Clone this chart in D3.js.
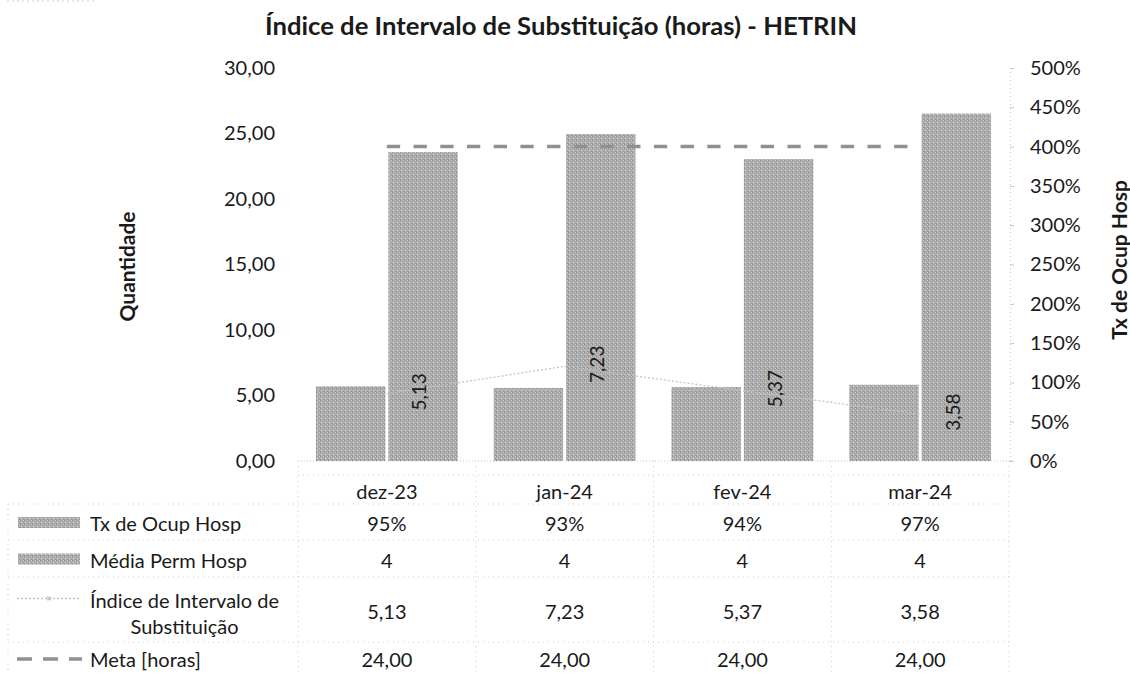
<!DOCTYPE html>
<html>
<head>
<meta charset="utf-8">
<script src="https://cdn.jsdelivr.net/npm/d3@7"></script>
<style>
  html, body { margin: 0; padding: 0; background: #fff; }
  svg { display: block; }
  text { font-family: Lato, "Open Sans", sans-serif; fill: #1a1a1a; }
</style>
</head>
<body>
<svg id="chart" width="1130" height="674"></svg>
<script>
// ---------------- data ----------------
const categories = ["dez-23", "jan-24", "fev-24", "mar-24"];
const txOcupHosp = [0.95, 0.93, 0.94, 0.97];       // right axis (%)
const mediaPermHosp = [3.93, 4.16, 3.84, 4.42];     // right axis (shown as 393% etc), table shows rounded
const indiceIntervalo = [5.13, 7.23, 5.37, 3.58];   // left axis
const metaHoras = [24, 24, 24, 24];                 // left axis
const leftTicks = [0, 5, 10, 15, 20, 25, 30];
const rightTicks = [0, 0.5, 1, 1.5, 2, 2.5, 3, 3.5, 4, 4.5, 5];
const seriesNames = ["Tx de Ocup Hosp", "Média Perm Hosp", "Índice de Intervalo de|Substituição", "Meta [horas]"];
const titleText = "Índice de Intervalo de Substituição (horas) - HETRIN";
const leftTitle = "Quantidade";
const rightTitle = "Tx de Ocup Hosp";

// ---------------- setup ----------------
const svg = d3.select("#chart");
const loc = d3.formatLocale({decimal: ",", thousands: ".", grouping: [3], currency: ["R$", ""]});
const f2 = loc.format(".2f");
const fPct = loc.format(".0%");
const f0 = loc.format(".0f");

// font calibration (approximate Calibri metrics with Lato)
function measure(str, size, weight) {
  const t = svg.append("text").attr("font-size", size).attr("font-weight", weight).text(str);
  const w = t.node().getComputedTextLength();
  t.remove();
  return w;
}
const fs = 100 * 51 / measure("30,00", 100, "normal");
const fsB = 100 * 592 / measure(titleText, 100, "bold");
const fsAx = 100 * 110 / measure(leftTitle, 100, "bold");

// pattern for halftone-like bar fill
const defs = svg.append("defs");
const pat = defs.append("pattern").attr("id", "tex").attr("patternUnits", "userSpaceOnUse")
  .attr("width", 4).attr("height", 4);
pat.append("rect").attr("width", 4).attr("height", 4).attr("fill", "#b0b0b0");
[[0,0,"#8c8c8c"],[2,1,"#989898"],[1,2,"#d0d0d0"],[3,3,"#949494"],[3,0,"#c8c8c8"],[0,3,"#9e9e9e"]].forEach(([x,y,c]) =>
  pat.append("rect").attr("x", x).attr("y", y).attr("width", 1).attr("height", 1).attr("fill", c));

const plotL = 298, plotR = 1009, plotT = 68, plotB = 461;
const x = d3.scaleBand().domain(categories).range([plotL, plotR]).paddingInner(0).paddingOuter(0);
const xSub = d3.scaleBand().domain(["tx", "media"]).range([0, x.bandwidth()]).paddingInner(0.0414).paddingOuter(0.248);
const yL = d3.scaleLinear().domain([0, 30]).range([plotB, plotT]);
const yR = d3.scaleLinear().domain([0, 5]).range([plotB, plotT]);
const gridCol = "#c6c6c6";

// top-left stray border
svg.append("line").attr("x1", 7).attr("x2", 95).attr("y1", 1).attr("y2", 1)
  .attr("stroke", "#d2d2d2").attr("stroke-dasharray", "2,3");

// title
svg.append("text").attr("x", 561).attr("y", 35).attr("text-anchor", "middle")
  .attr("font-size", fsB).attr("font-weight", "bold").text(titleText);

// left axis (labels only)
const gL = svg.append("g").attr("transform", `translate(${plotL - 23},0)`)
  .call(d3.axisLeft(yL).tickValues(leftTicks).tickFormat(f2).tickSize(0).tickPadding(0));
gL.select(".domain").remove();
gL.selectAll("text").attr("font-size", fs).attr("font-family", "Lato").attr("fill", "#1a1a1a");

// right axis
const gR = svg.append("g").attr("transform", `translate(${plotR + 1},0)`)
  .call(d3.axisRight(yR).tickValues(rightTicks).tickFormat(fPct).tickSize(4).tickPadding(16));
gR.select(".domain").attr("stroke", gridCol).attr("stroke-dasharray", "1,3");
gR.selectAll(".tick line").attr("stroke", gridCol);
gR.selectAll("text").attr("font-size", fs).attr("font-family", "Lato").attr("fill", "#1a1a1a");

// axis titles
svg.append("text").attr("transform", `translate(126,${(plotT + plotB) / 2 + 2}) rotate(-90)`)
  .attr("text-anchor", "middle").attr("dominant-baseline", "central")
  .attr("font-size", fsAx).attr("font-weight", "bold").text(leftTitle);
svg.append("text").attr("transform", `translate(1118,${260}) rotate(-90)`)
  .attr("text-anchor", "middle").attr("dominant-baseline", "central")
  .attr("font-size", fsAx).attr("font-weight", "bold").text(rightTitle);

// baseline
svg.append("line").attr("x1", plotL).attr("x2", plotR + 1).attr("y1", plotB).attr("y2", plotB)
  .attr("stroke", gridCol).attr("stroke-dasharray", "1,2");

// bars
const rows = categories.map((c, i) => ({c, tx: txOcupHosp[i], media: mediaPermHosp[i], idx: indiceIntervalo[i], meta: metaHoras[i]}));
const gBars = svg.append("g");
gBars.selectAll("rect.tx").data(rows).join("rect").attr("class", "tx")
  .attr("x", d => x(d.c) + xSub("tx")).attr("width", xSub.bandwidth())
  .attr("y", d => yR(d.tx)).attr("height", d => plotB - yR(d.tx))
  .attr("fill", "url(#tex)");
gBars.selectAll("rect.media").data(rows).join("rect").attr("class", "media")
  .attr("x", d => x(d.c) + xSub("media")).attr("width", xSub.bandwidth())
  .attr("y", d => yR(d.media)).attr("height", d => plotB - yR(d.media))
  .attr("fill", "url(#tex)");

// meta dashed line
const cx = c => x(c) + x.bandwidth() / 2;
svg.append("path").datum(rows)
  .attr("d", d3.line().x(d => cx(d.c)).y(d => yL(d.meta)))
  .attr("fill", "none").attr("stroke", "#909090").attr("stroke-width", 3.5)
  .attr("stroke-dasharray", "13.3,13.4");

// indice line
svg.append("path").datum(rows)
  .attr("d", d3.line().x(d => cx(d.c)).y(d => yL(d.idx)))
  .attr("fill", "none").attr("stroke", "#c4c4c4").attr("stroke-width", 1.3)
  .attr("stroke-dasharray", "2,2");
// indice labels
svg.selectAll("text.idxlab").data(rows).join("text").attr("class", "idxlab")
  .attr("transform", d => `translate(${cx(d.c) + 32},${yL(d.idx) - 2}) rotate(-90)`)
  .attr("text-anchor", "middle").attr("dominant-baseline", "central")
  .attr("font-size", fs * 0.95).text(d => f2(d.idx));

// ---------------- data table ----------------
const rowBounds = [475, 504, 540, 577, 642, 674];
const gT = svg.append("g");
const dot = sel => sel.attr("stroke", "#cfcfcf").attr("stroke-dasharray", "1,4").attr("stroke-width", 1);
// horizontal lines
gT.append("line").attr("x1", plotL).attr("x2", plotR).attr("y1", rowBounds[0]).attr("y2", rowBounds[0]).call(dot);
rowBounds.slice(1, 5).forEach(yv => gT.append("line").attr("x1", 8).attr("x2", plotR).attr("y1", yv).attr("y2", yv).call(dot));
// vertical lines
categories.forEach(c => gT.append("line").attr("x1", x(c)).attr("x2", x(c)).attr("y1", plotB).attr("y2", 674).call(dot));
gT.append("line").attr("x1", plotR).attr("x2", plotR).attr("y1", plotB).attr("y2", 674).call(dot);
gT.append("line").attr("x1", 8).attr("x2", 8).attr("y1", rowBounds[1]).attr("y2", 674).call(dot);

// header
gT.selectAll("text.hdr").data(categories).join("text").attr("class", "hdr")
  .attr("x", d => cx(d)).attr("y", (rowBounds[0] + rowBounds[1]) / 2 + 1)
  .attr("text-anchor", "middle").attr("dominant-baseline", "central").attr("font-size", fs).text(d => d);

const tableRows = [
  {vals: txOcupHosp.map(fPct)},
  {vals: mediaPermHosp.map(f0)},
  {vals: indiceIntervalo.map(f2)},
  {vals: metaHoras.map(f2)}
];
tableRows.forEach((r, ri) => {
  const yc = (rowBounds[ri + 1] + rowBounds[ri + 2]) / 2 + 1;
  categories.forEach((c, ci) => {
    gT.append("text").attr("x", cx(c)).attr("y", yc).attr("text-anchor", "middle")
      .attr("dominant-baseline", "central").attr("font-size", fs).text(r.vals[ci]);
  });
  // row label
  const parts = seriesNames[ri].split("|");
  if (parts.length === 1) {
    gT.append("text").attr("x", 90).attr("y", yc).attr("dominant-baseline", "central")
      .attr("font-size", fs).text(parts[0]);
  } else {
    const t1 = gT.append("text").attr("x", 90).attr("y", yc - 11).attr("dominant-baseline", "central")
      .attr("font-size", fs).text(parts[0]);
    const w1 = t1.node().getComputedTextLength();
    gT.append("text").attr("x", 90 + w1 / 2).attr("y", yc + 15).attr("text-anchor", "middle")
      .attr("dominant-baseline", "central").attr("font-size", fs).text(parts[1]);
  }
  // legend key
  if (ri < 2) {
    gT.append("rect").attr("x", 18).attr("y", yc - 6).attr("width", 62).attr("height", 11).attr("fill", "url(#tex)");
  } else if (ri === 2) {
    gT.append("line").attr("x1", 17).attr("x2", 80).attr("y1", yc - 12).attr("y2", yc - 12)
      .attr("stroke", "#c4c4c4").attr("stroke-width", 1.3).attr("stroke-dasharray", "2,2");
    gT.append("path").attr("d", d3.symbol(d3.symbolCross, 14)()).attr("transform", `translate(49,${yc - 12}) rotate(45)`)
      .attr("fill", "#c4c4c4");
  } else {
    gT.append("line").attr("x1", 17).attr("x2", 82).attr("y1", yc).attr("y2", yc)
      .attr("stroke", "#909090").attr("stroke-width", 3.5).attr("stroke-dasharray", "15,11");
  }
});
</script>
</body>
</html>
